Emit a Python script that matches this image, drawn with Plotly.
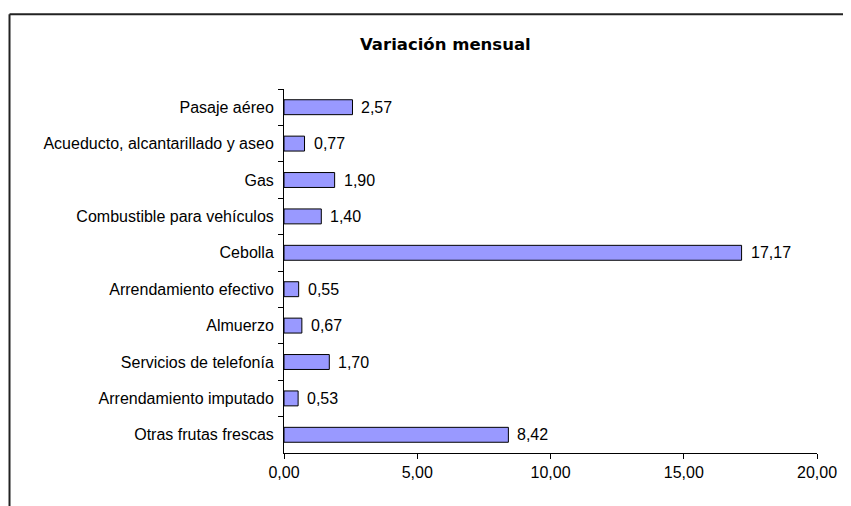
import plotly.graph_objects as go

categories = ["Pasaje aéreo", "Acueducto, alcantarillado y aseo", "Gas",
              "Combustible para vehículos", "Cebolla", "Arrendamiento efectivo",
              "Almuerzo", "Servicios de telefonía", "Arrendamiento imputado",
              "Otras frutas frescas"]
values = [2.57, 0.77, 1.90, 1.40, 17.17, 0.55, 0.67, 1.70, 0.53, 8.42]
x_ticks = [0, 5, 10, 15, 20]
title = "Variación mensual"

labels = [f"{v:.2f}".replace(".", ",") for v in values]

OFF = 8  # browser body margin
W, H = 851 - OFF, 506 - OFF
L, R, T, B = 283.5 - OFF, 817.5 - OFF, 88.8 - OFF, 453.3 - OFF

FONT = "Liberation Sans, Arial"

fig = go.Figure(go.Bar(
    y=categories, x=values, orientation="h",
    marker=dict(color="#9999FF", line=dict(color="black", width=1)),
))

def px(x):
    return (x - OFF - L) / (R - L)

def py(y):
    return (B - (y - OFF)) / (B - T)

annotations = [
    dict(text=lab, x=v, y=c, xref="x", yref="y", xanchor="left", yanchor="middle",
         xshift=7, showarrow=False, font=dict(family=FONT, size=16, color="black"))
    for c, v, lab in zip(categories, values, labels)
]
annotations.append(
    dict(text="<b>" + title + "</b>", xref="paper", yref="paper",
         x=px(445), y=py(44), xanchor="center", yanchor="middle",
         showarrow=False,
         font=dict(family="DejaVu Sans", size=16.5, color="black")))

fig.update_layout(
    width=W, height=H,
    margin=dict(l=L, r=W - R, t=T, b=H - B, autoexpand=False),
    paper_bgcolor="white", plot_bgcolor="white",
    separators=",.",
    bargap=0.59,
    showlegend=False,
    font=dict(family=FONT, size=16, color="black"),
    xaxis=dict(range=[0, 20], tickvals=x_ticks, tickformat=".2f",
               showgrid=False, zeroline=False, showline=True, linecolor="black",
               linewidth=1, ticks="outside", ticklen=5, tickcolor="black",
               tickfont=dict(size=16)),
    yaxis=dict(categoryorder="array", categoryarray=categories, autorange="reversed",
               showgrid=False, zeroline=False, showline=True, linecolor="black",
               linewidth=1, ticks="outside", ticklen=5, tickcolor="black",
               tickson="boundaries", ticklabelstandoff=6, tickfont=dict(size=16)),
    shapes=[
        dict(type="line", xref="paper", yref="paper", x0=px(8.5), x1=px(8.5),
             y0=py(520), y1=py(14), line=dict(color="#222", width=2)),
        dict(type="line", xref="paper", yref="paper", x0=px(8.5), x1=px(870),
             y0=py(14), y1=py(14), line=dict(color="#222", width=2)),
    ],
    annotations=annotations,
)

fig.write_html("out.html")
